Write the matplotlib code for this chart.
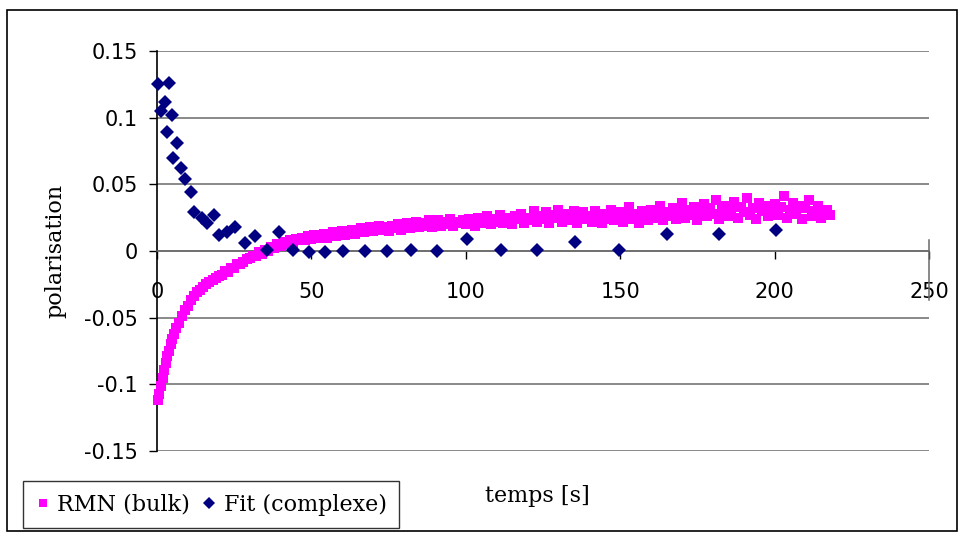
import matplotlib
matplotlib.use("Agg")
import matplotlib.pyplot as plt
from matplotlib.patches import Rectangle
from matplotlib.lines import Line2D

plt.rcParams['axes.unicode_minus'] = False

# ---- data ----
rmn_t = [0.3, 0.8, 1.3, 1.8, 2.3, 2.8, 3.3, 3.8, 4.4, 5.0, 5.6, 6.2, 7.0,
         8, 9, 10, 11, 12, 13, 14, 15, 16, 17, 18, 19,
         20, 21, 22, 23, 24, 25, 26, 27, 28, 29,
         30, 31, 32, 33, 34, 35, 36, 37, 38, 39,
         40, 41, 42, 43, 44, 45, 46, 47, 48, 49,
         50, 51, 52, 53, 54, 55, 56, 57, 58, 59,
         60, 61, 62, 63, 64, 65, 66, 67, 68, 69,
         70, 71, 72, 73, 74, 75, 76, 77, 78, 79,
         80, 81, 82, 83, 84, 85, 86, 87, 88, 89,
         90, 91, 92, 93, 94, 95, 96, 97, 98, 99,
         100, 101, 102, 103, 104, 105, 106, 107, 108, 109,
         110, 111, 112, 113, 114, 115, 116, 117, 118, 119,
         120, 121, 122, 123, 124, 125, 126, 127, 128, 129,
         130, 131, 132, 133, 134, 135, 136, 137, 138, 139,
         140, 141, 142, 143, 144, 145, 146, 147, 148, 149,
         150, 151, 152, 153, 154, 155, 156, 157, 158, 159,
         160, 161, 162, 163, 164, 165, 166, 167, 168, 169,
         170, 171, 172, 173, 174, 175, 176, 177, 178, 179,
         180, 181, 182, 183, 184, 185, 186, 187, 188, 189,
         190, 191, 192, 193, 194, 195, 196, 197, 198, 199,
         200, 201, 202, 203, 204, 205, 206, 207, 208, 209,
         210, 211, 212, 213, 214, 215, 216, 217, 218]
rmn_y = [-0.112, -0.107, -0.101, -0.095, -0.089, -0.084, -0.079, -0.075, -0.070, -0.066, -0.062, -0.058, -0.054,
         -0.049, -0.044, -0.041, -0.037, -0.034, -0.031, -0.029, -0.027, -0.025, -0.023, -0.022, -0.020,
         -0.019, -0.018, -0.015, -0.016, -0.013, -0.013, -0.010, -0.010, -0.008, -0.006,
         -0.005, -0.004, -0.004, -0.001, -0.002, 0.001, 0.000, 0.003, 0.002, 0.005,
         0.004, 0.007, 0.005, 0.008, 0.006, 0.009, 0.008, 0.010, 0.008, 0.011,
         0.009, 0.012, 0.010, 0.011, 0.013, 0.010, 0.012, 0.014, 0.011, 0.013,
         0.015, 0.012, 0.014, 0.016, 0.013, 0.015, 0.017, 0.014, 0.016, 0.018,
         0.015, 0.017, 0.019, 0.016, 0.018, 0.015, 0.019, 0.017, 0.020, 0.016,
         0.019, 0.021, 0.017, 0.020, 0.022, 0.018, 0.021, 0.019, 0.023, 0.018,
         0.021, 0.023, 0.019, 0.022, 0.020, 0.024, 0.019, 0.022, 0.021, 0.023,
         0.020, 0.024, 0.022, 0.019, 0.025, 0.021, 0.023, 0.026, 0.020, 0.024,
         0.022, 0.027, 0.021, 0.025, 0.023, 0.020, 0.026, 0.024, 0.028, 0.021,
         0.025, 0.023, 0.030, 0.022, 0.026, 0.024, 0.029, 0.021, 0.027, 0.025,
         0.031, 0.022, 0.028, 0.025, 0.023, 0.030, 0.021, 0.027, 0.029, 0.024,
         0.026, 0.022, 0.030, 0.025, 0.021, 0.028, 0.024, 0.031, 0.023, 0.026,
         0.029, 0.022, 0.027, 0.033, 0.024, 0.028, 0.021, 0.030, 0.026, 0.023,
         0.031, 0.025, 0.028, 0.034, 0.023, 0.029, 0.026, 0.032, 0.024, 0.030,
         0.036, 0.025, 0.031, 0.027, 0.033, 0.023, 0.030, 0.035, 0.026, 0.032,
         0.028, 0.038, 0.024, 0.031, 0.034, 0.026, 0.030, 0.037, 0.025, 0.033,
         0.029, 0.040, 0.027, 0.032, 0.024, 0.036, 0.030, 0.034, 0.026, 0.031,
         0.035, 0.027, 0.033, 0.041, 0.025, 0.031, 0.036, 0.028, 0.034, 0.024,
         0.032, 0.038, 0.026, 0.030, 0.034, 0.025, 0.029, 0.031, 0.027]

fit_t = [0.3, 1.3, 2.6, 3.2, 3.9, 4.9, 5.2, 6.5, 7.8, 9.1, 11.0, 12.0, 14.6, 16.2, 18.4, 20.1, 22.7,
         25.2, 28.5, 31.7, 35.6, 39.5, 44.0, 49.2, 54.4, 60.2, 67.3, 74.4, 82.2, 90.6, 100.3, 111.3,
         123.0, 135.3, 149.5, 165.0, 181.9, 200.6]
fit_y = [0.125, 0.105, 0.112, 0.089, 0.126, 0.102, 0.070, 0.081, 0.062, 0.054, 0.044, 0.029, 0.025,
         0.021, 0.027, 0.012, 0.014, 0.018, 0.006, 0.011, 0.001, 0.014, 0.001, -0.0005, -0.0005, 0.0,
         0.0, 0.0, 0.001, 0.0, 0.009, 0.001, 0.001, 0.007, 0.001, 0.013, 0.013, 0.016]

x_ticks = [0, 50, 100, 150, 200, 250]
y_ticks = [-0.15, -0.1, -0.05, 0, 0.05, 0.1, 0.15]
y_tick_labels = ["-0.15", "-0.1", "-0.05", "0", "0.05", "0.1", "0.15"]

series_names = ["RMN (bulk)", "Fit (complexe)"]
x_label = "temps [s]"
y_label = "polarisation"

# ---- figure ----
W, H = 965, 539
fig = plt.figure(figsize=(W / 100, H / 100), dpi=100)
fig.patch.set_facecolor("white")

ax = fig.add_axes([157 / W, 1 - 451 / H, 772 / W, 400 / H])
ax.set_xlim(0, 250)
ax.set_ylim(-0.15, 0.15)

ax.plot(rmn_t, rmn_y, linestyle="none", marker="s", markersize=7.2, color="#FF00FF",
        markeredgewidth=0, clip_on=False, zorder=3)
ax.plot(fit_t, fit_y, linestyle="none", marker="D", markersize=6.8, color="#000080",
        markeredgewidth=0, clip_on=False, zorder=4)

ax.set_xticks(x_ticks)
ax.set_yticks(y_ticks)
ax.set_yticklabels(y_tick_labels)
ax.yaxis.grid(True, color="#6a6a6a", linewidth=1.1)
ax.set_axisbelow(True)

for s in ["top", "right"]:
    ax.spines[s].set_visible(False)
ax.spines["bottom"].set_position(("data", 0))
ax.spines["bottom"].set_color("#6a6a6a")
ax.spines["bottom"].set_linewidth(1.1)
ax.spines["left"].set_color("black")
ax.spines["left"].set_linewidth(1.2)

ax.tick_params(axis="x", direction="out", length=5.5, width=1, color="black",
               pad=17, labelsize=15)
ax.tick_params(axis="y", direction="out", length=6, width=1, color="black",
               pad=8, labelsize=15)
for lab in ax.get_xticklabels() + ax.get_yticklabels():
    lab.set_fontfamily("DejaVu Sans")

# short vertical stroke at the right end of the x axis (as in the original)
ax.plot([250, 250], [0.008, -0.037], color="#6a6a6a", linewidth=1.1, clip_on=False, zorder=2)

fig.text(55 / W, 1 - 251 / H, y_label, rotation=90, ha="center", va="center",
         fontsize=16, family="DejaVu Serif")
fig.text(537 / W, 1 - 496 / H, x_label, ha="center", va="center",
         fontsize=16, family="DejaVu Serif")

handles = [Line2D([], [], linestyle="none", marker="s", markersize=5.5, color="#FF00FF",
                  markeredgewidth=0),
           Line2D([], [], linestyle="none", marker="D", markersize=6, color="#000080",
                  markeredgewidth=0)]
leg = fig.legend(handles, series_names, loc="lower left",
                 bbox_to_anchor=(23 / W, 1 - 528 / H), borderaxespad=0,
                 ncol=2, frameon=True, fancybox=False, shadow=False,
                 prop={"family": "DejaVu Serif", "size": 16},
                 handlelength=0.7, handletextpad=0.3, columnspacing=0.5,
                 borderpad=0.55)
leg.get_frame().set_edgecolor("black")
leg.get_frame().set_linewidth(1)

fig.patches.append(Rectangle((7 / W, 1 - 531 / H), 950 / W, 521 / H, transform=fig.transFigure,
                             fill=False, edgecolor="black", linewidth=1.2))

fig.savefig("out.png", dpi=100)
